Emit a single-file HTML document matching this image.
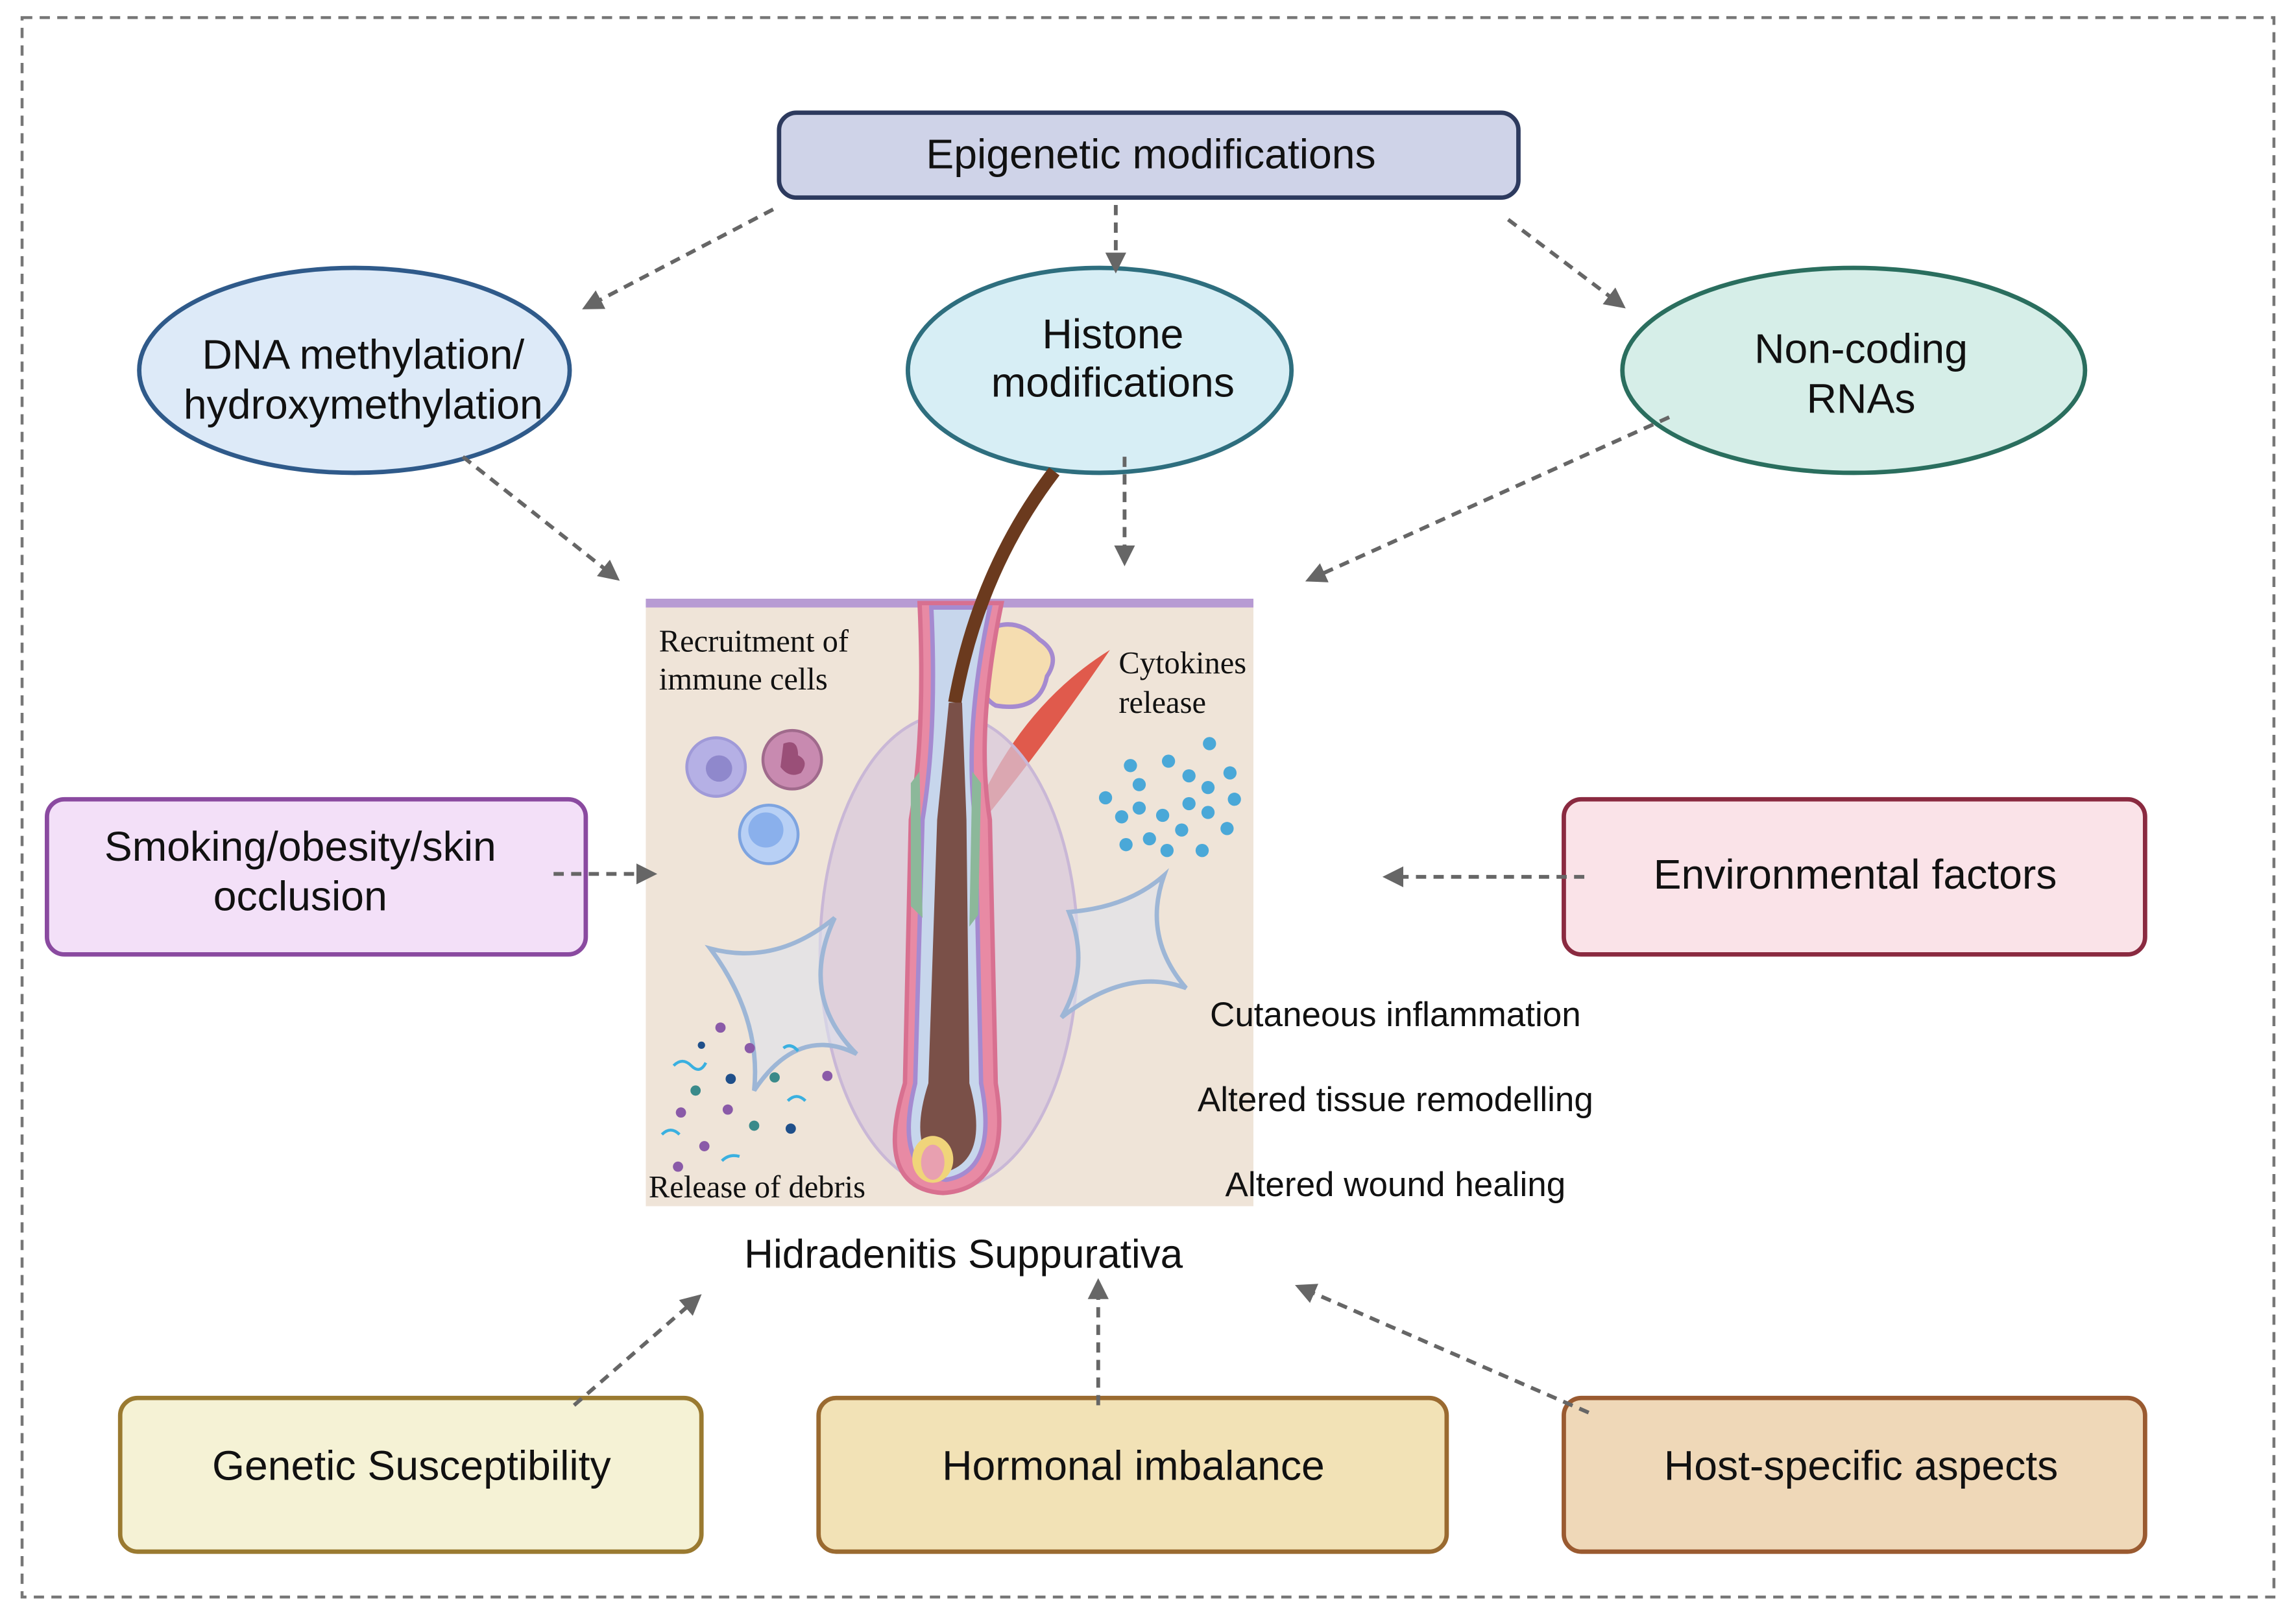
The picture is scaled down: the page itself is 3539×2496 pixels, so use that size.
<!DOCTYPE html>
<html><head><meta charset="utf-8"><style>
html,body{margin:0;padding:0;background:#fff}
svg{display:block}
.s{font-family:"Liberation Sans",sans-serif;fill:#111}
.r{font-family:"Liberation Serif",serif;fill:#111}
.d{stroke:#666;stroke-width:2.6;stroke-dasharray:7,5;fill:none}
</style></head><body>
<svg width="3539" height="2496" viewBox="0 0 1568 1106" xmlns="http://www.w3.org/2000/svg">
<defs><marker id="a" viewBox="0 0 10 10" refX="8" refY="5" markerWidth="5.5" markerHeight="5.5" orient="auto"><path d="M0,0L10,5L0,10z" fill="#666"/></marker></defs>
<rect width="1568" height="1106" fill="#fff"/>
<rect x="15" y="12" width="1538" height="1079" fill="none" stroke="#777" stroke-width="2" stroke-dasharray="7,5"/>
<rect x="532" y="77" width="505" height="58" rx="12" fill="#cfd3e8" stroke="#2d3a5e" stroke-width="3"/>
<text class="s" x="786" y="115" font-size="28.5" text-anchor="middle">Epigenetic modifications</text>
<ellipse cx="242" cy="253" rx="147" ry="70" fill="#ddeaf8" stroke="#2f5a8a" stroke-width="3"/>
<text class="s" x="248" y="252" font-size="28.5" text-anchor="middle">DNA methylation/</text>
<text class="s" x="248" y="286" font-size="28.5" text-anchor="middle">hydroxymethylation</text>
<ellipse cx="751" cy="253" rx="131" ry="70" fill="#d7eef5" stroke="#2e6e7e" stroke-width="3"/>
<text class="s" x="760" y="238" font-size="28.5" text-anchor="middle">Histone</text>
<text class="s" x="760" y="271" font-size="28.5" text-anchor="middle">modifications</text>
<ellipse cx="1266" cy="253" rx="158" ry="70" fill="#d6eee8" stroke="#2a6e5e" stroke-width="3"/>
<text class="s" x="1271" y="248" font-size="28.5" text-anchor="middle">Non-coding</text>
<text class="s" x="1271" y="282" font-size="28.5" text-anchor="middle">RNAs</text>
<rect x="32" y="546" width="368" height="106" rx="12" fill="#f3e0f8" stroke="#8a4aa0" stroke-width="3"/>
<text class="s" x="205" y="588" font-size="28.5" text-anchor="middle">Smoking/obesity/skin</text>
<text class="s" x="205" y="622" font-size="28.5" text-anchor="middle">occlusion</text>
<rect x="1068" y="546" width="397" height="106" rx="12" fill="#fae3e8" stroke="#8a2a40" stroke-width="3"/>
<text class="s" x="1267" y="607" font-size="28.5" text-anchor="middle">Environmental factors</text>
<rect x="82" y="955" width="397" height="105" rx="12" fill="#f5f2d5" stroke="#9a7a30" stroke-width="3"/>
<text class="s" x="281" y="1011" font-size="28.5" text-anchor="middle">Genetic Susceptibility</text>
<rect x="559" y="955" width="429" height="105" rx="12" fill="#f2e2b6" stroke="#9a6a30" stroke-width="3"/>
<text class="s" x="774" y="1011" font-size="28.5" text-anchor="middle">Hormonal imbalance</text>
<rect x="1068" y="955" width="397" height="105" rx="12" fill="#efd8b8" stroke="#9a5a30" stroke-width="3"/>
<text class="s" x="1271" y="1011" font-size="28.5" text-anchor="middle">Host-specific aspects</text>
<!-- illustration -->
<rect x="441" y="412" width="415" height="412" fill="#efe4d8"/>
<rect x="441" y="409" width="415" height="6" fill="#b79bd3"/>
<path d="M672,432 q-10,40 8,50 q30,5 35,-20 q10,-15 -5,-25 q-18,-18 -38,-5z" fill="#f5ddb0" stroke="#a58ad0" stroke-width="3"/>
<path d="M668,550 Q700,480 758,444 Q720,500 676,555Z" fill="#e05a4c"/>
<ellipse cx="648" cy="650" rx="88" ry="162" fill="#d8c8dd" fill-opacity="0.7" stroke="#c9b7d6" stroke-width="2"/>
<path d="M628,412 Q632,500 622,560 L618,740 Q596,812 644,815 Q692,812 680,740 L676,560 Q666,500 684,412Z" fill="#e88aa4" stroke="#d87090" stroke-width="3"/>
<path d="M636,415 Q640,500 630,560 L625,740 Q610,800 646,806 Q682,800 670,740 L666,560 Q658,500 676,415Z" fill="#c7d6ec" stroke="#a58ad0" stroke-width="3"/>
<path d="M720,322 Q668,390 652,480" stroke="#6b3a1e" stroke-width="9" fill="none"/>
<path d="M648,480 L657,480 L660,560 L662,740 Q676,790 648,800 Q618,790 634,740 L640,560Z" fill="#7a5048"/>
<ellipse cx="637" cy="792" rx="14" ry="16" fill="#f0d47a"/>
<ellipse cx="637" cy="794" rx="8" ry="12" fill="#e8a0b0"/>
<path d="M622,535 l6,-8 l2,100 l-8,-8z M664,527 l6,8 l-2,90 l-6,8z" fill="#8cb89a"/>
<circle cx="489" cy="524" r="20" fill="#b5b0e5" stroke="#a09ad8" stroke-width="2"/><circle cx="491" cy="525" r="9" fill="#8f88cc"/>
<circle cx="541" cy="519" r="20" fill="#c88ab0" stroke="#a06a8c" stroke-width="2"/><path d="M535,508 q10,-4 10,8 q8,4 2,12 q-8,4 -14,-4z" fill="#9a4f78"/>
<circle cx="525" cy="570" r="20" fill="#b8d0f5" stroke="#7ea4e0" stroke-width="2"/><circle cx="523" cy="567" r="12" fill="#8ab0ec"/>
<g fill="#4aa8d8">
<circle cx="826" cy="508" r="4.5"/><circle cx="772" cy="523" r="4.5"/><circle cx="798" cy="520" r="4.5"/><circle cx="840" cy="528" r="4.5"/><circle cx="755" cy="545" r="4.5"/><circle cx="778" cy="536" r="4.5"/><circle cx="812" cy="530" r="4.5"/><circle cx="825" cy="538" r="4.5"/><circle cx="843" cy="546" r="4.5"/><circle cx="766" cy="558" r="4.5"/><circle cx="778" cy="552" r="4.5"/><circle cx="794" cy="557" r="4.5"/><circle cx="812" cy="549" r="4.5"/><circle cx="825" cy="555" r="4.5"/><circle cx="838" cy="566" r="4.5"/><circle cx="769" cy="577" r="4.5"/><circle cx="785" cy="573" r="4.5"/><circle cx="807" cy="567" r="4.5"/><circle cx="797" cy="581" r="4.5"/><circle cx="821" cy="581" r="4.5"/>
</g>
<path d="M485,648 Q530,660 570,627 Q545,680 585,720 Q545,700 515,745 Q520,695 485,648Z" fill="#dde3ec" fill-opacity="0.6" stroke="#9db6d6" stroke-width="3"/>
<path d="M730,623 Q770,620 795,598 Q780,640 810,675 Q770,660 725,695 Q745,660 730,623Z" fill="#dde3ec" fill-opacity="0.6" stroke="#9db6d6" stroke-width="3"/>
<g fill="#8a5aa8"><circle cx="492" cy="702" r="3.5"/><circle cx="512" cy="716" r="3.5"/><circle cx="465" cy="760" r="3.5"/><circle cx="497" cy="758" r="3.5"/><circle cx="565" cy="735" r="3.5"/><circle cx="481" cy="783" r="3.5"/><circle cx="463" cy="797" r="3.5"/></g>
<g fill="#3a8a8a"><circle cx="475" cy="745" r="3.5"/><circle cx="529" cy="736" r="3.5"/><circle cx="515" cy="769" r="3.5"/></g>
<g fill="#1f4f8a"><circle cx="479" cy="714" r="2.5"/><circle cx="499" cy="737" r="3.5"/><circle cx="540" cy="771" r="3.5"/></g>
<g stroke="#3ab0e0" stroke-width="2" fill="none"><path d="M460,728 q6,-6 12,0 t10,-2"/><path d="M535,716 q5,-4 10,2"/><path d="M538,752 q6,-6 12,0"/><path d="M452,775 q6,-6 12,0"/><path d="M493,793 q5,-5 12,-3"/></g>
<text class="r" x="450" y="445" font-size="21.5">Recruitment of</text>
<text class="r" x="450" y="471" font-size="21.5">immune cells</text>
<text class="r" x="764" y="460" font-size="21.5">Cytokines</text>
<text class="r" x="764" y="487" font-size="21.5">release</text>
<text class="r" x="443" y="818" font-size="21.5">Release of debris</text>
<text class="s" x="953" y="701" font-size="23.5" text-anchor="middle">Cutaneous inflammation</text>
<text class="s" x="953" y="759" font-size="23.5" text-anchor="middle">Altered tissue remodelling</text>
<text class="s" x="953" y="817" font-size="23.5" text-anchor="middle">Altered wound healing</text>
<text class="s" x="658" y="866" font-size="27.5" text-anchor="middle">Hidradenitis Suppurativa</text>
<g class="d" marker-end="url(#a)">
<line x1="528" y1="143" x2="400" y2="210"/>
<line x1="762" y1="140" x2="762" y2="184"/>
<line x1="1030" y1="150" x2="1108" y2="209"/>
<line x1="316" y1="312" x2="421" y2="395"/>
<line x1="768" y1="312" x2="768" y2="384"/>
<line x1="1140" y1="285" x2="894" y2="396"/>
<line x1="378" y1="597" x2="446" y2="597"/>
<line x1="1082" y1="599" x2="947" y2="599"/>
<line x1="392" y1="960" x2="477" y2="886"/>
<line x1="750" y1="960" x2="750" y2="876"/>
<line x1="1085" y1="965" x2="887" y2="879"/>
</g>
</svg>
</body></html>
